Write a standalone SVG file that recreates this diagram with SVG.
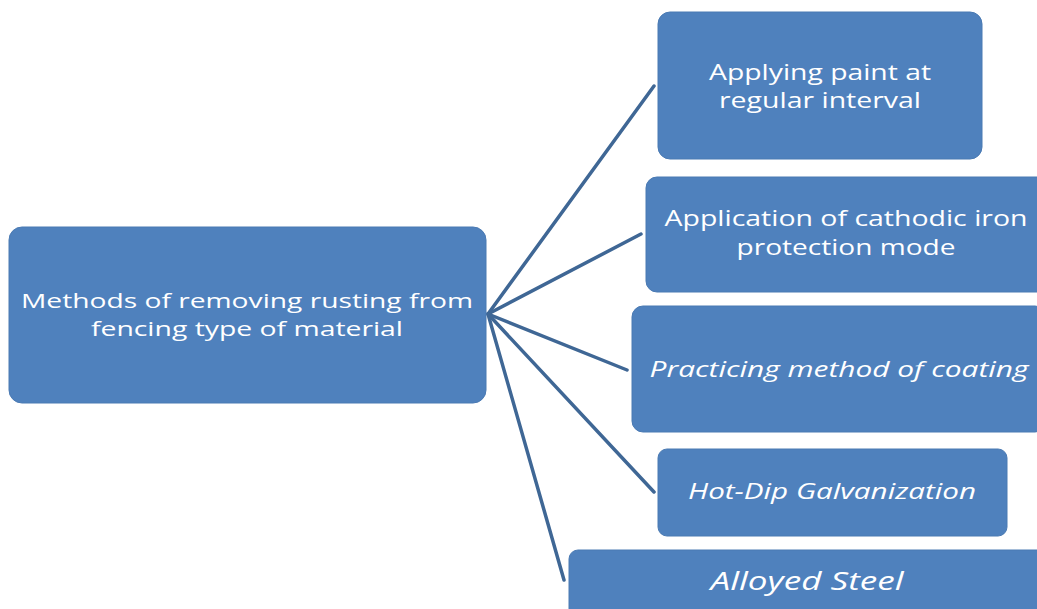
<svg xmlns="http://www.w3.org/2000/svg" width="1037" height="609" viewBox="0 0 1037 609">
<style>
.box{fill:#4F81BD;stroke:#4A7AB3;stroke-width:1}
.t{fill:#FFFFFF;font-family:"Open Sans","Liberation Sans",sans-serif;font-size:22px;text-anchor:middle}
.r{font-size:20px}
.i{font-style:italic}
.c{stroke:#3F6795;stroke-width:3.5;fill:none;stroke-linecap:round}
</style>
<rect width="1037" height="609" fill="#FFFFFF"/>
<g id="connectors">
<line class="c" x1="488" y1="314" x2="654" y2="86"/>
<line class="c" x1="488" y1="314" x2="641" y2="234"/>
<line class="c" x1="488" y1="314" x2="627" y2="370"/>
<line class="c" x1="488" y1="314" x2="654" y2="492"/>
<line class="c" x1="488" y1="314" x2="564" y2="580"/>
</g>
<g id="root">
<rect class="box" x="9" y="227" width="477" height="176" rx="13"/>
<text class="t r" x="247" y="308" textLength="452" lengthAdjust="spacingAndGlyphs">Methods of removing rusting from</text>
<text class="t r" x="247" y="336" textLength="312" lengthAdjust="spacingAndGlyphs">fencing type of material</text>
</g>
<g id="n1">
<rect class="box" x="658" y="12" width="324" height="147" rx="12"/>
<text class="t" x="820" y="80" textLength="222" lengthAdjust="spacingAndGlyphs">Applying paint at</text>
<text class="t" x="820" y="108" textLength="202" lengthAdjust="spacingAndGlyphs">regular interval</text>
</g>
<g id="n2">
<rect class="box" x="646" y="177" width="402" height="115" rx="11"/>
<text class="t" x="846" y="226" textLength="363" lengthAdjust="spacingAndGlyphs">Application of cathodic iron</text>
<text class="t" x="846" y="255" textLength="219" lengthAdjust="spacingAndGlyphs">protection mode</text>
</g>
<g id="n3">
<rect class="box" x="632" y="306" width="414" height="126" rx="11"/>
<text class="t i" x="839" y="377" textLength="379" lengthAdjust="spacingAndGlyphs">Practicing method of coating</text>
</g>
<g id="n4">
<rect class="box" x="658" y="449" width="349" height="87" rx="9"/>
<text class="t i" x="832" y="499" textLength="288" lengthAdjust="spacingAndGlyphs">Hot-Dip Galvanization</text>
</g>
<g id="n5">
<rect class="box" x="569" y="550" width="480" height="70" rx="9"/>
<text class="t i" x="807" y="590" style="font-size:26px" textLength="193" lengthAdjust="spacingAndGlyphs">Alloyed Steel</text>
</g>
</svg>
